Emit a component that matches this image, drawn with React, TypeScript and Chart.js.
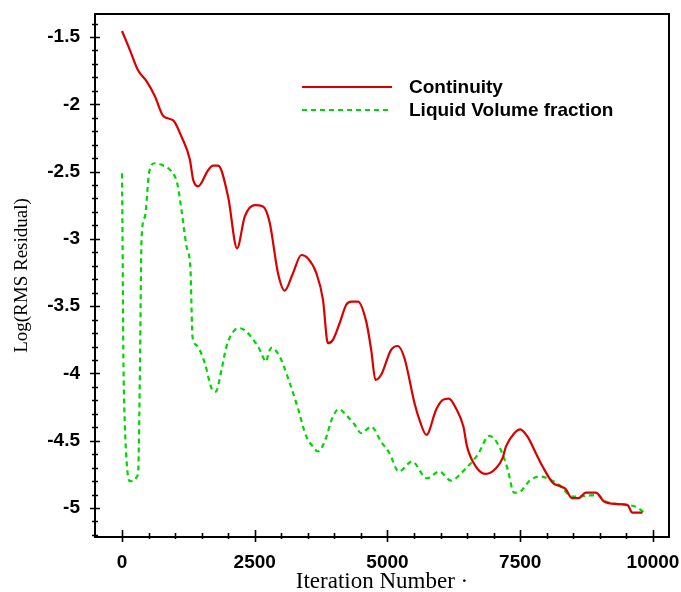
import React, { useEffect, useRef } from "react";
import { Chart, registerables } from "chart.js";

Chart.register(...registerables);

// ---- Data ----
const CONT_ITER = [
  0, 150, 300, 465, 620, 777, 965, 1120, 1278, 1340, 1434, 1622, 1716, 1810, 1998, 2167, 2312, 2500, 2656, 2782,
  2938, 3064, 3220, 3378, 3502, 3660, 3784, 3878, 3972, 4098, 4223, 4317, 4442, 4600, 4693, 4774, 4880, 5068, 5194,
  5320, 5508, 5602, 5733, 5915, 6040, 6153, 6291, 6429, 6498, 6660, 6855, 7043, 7167, 7230, 7387, 7500, 7637, 7794,
  7919, 8107, 8264, 8358, 8470, 8596, 8734, 8922, 9079, 9298, 9517, 9611, 9799,
];
const CONT_RES = [
  -1.455, -1.597, -1.745, -1.83, -1.94, -2.087, -2.12, -2.24, -2.41, -2.56, -2.61, -2.49, -2.456, -2.456, -2.686,
  -3.07, -2.835, -2.75, -2.76, -2.88, -3.255, -3.385, -3.255, -3.12, -3.145, -3.255, -3.45, -3.775, -3.75, -3.627,
  -3.49, -3.466, -3.466, -3.615, -3.825, -4.048, -4.01, -3.825, -3.796, -3.887, -4.22, -4.345, -4.457, -4.27, -4.197,
  -4.187, -4.26, -4.395, -4.544, -4.69, -4.747, -4.705, -4.63, -4.544, -4.444, -4.415, -4.47, -4.593, -4.69, -4.81,
  -4.84, -4.86, -4.927, -4.927, -4.886, -4.886, -4.952, -4.97, -4.977, -5.034, -5.034,
];
const LVF_ITER = [
  0, 10, 25, 56, 100, 150, 244, 276, 307, 326, 338, 370, 432, 514, 620, 746, 934, 1040, 1120, 1216, 1290, 1328,
  1403, 1560, 1686, 1767, 1874, 1967, 2124, 2218, 2344, 2563, 2720, 2751, 2814, 2970, 3158, 3314, 3472, 3597, 3690,
  3816, 3972, 4086, 4223, 4380, 4505, 4693, 4880, 5038, 5212, 5463, 5739, 5977, 6195, 6447, 6697, 6917, 7105, 7267,
  7380, 7500, 7669, 7857, 8013, 8233, 8483, 8734, 8951, 9110, 9486, 9674, 9850,
];
const LVF_RES = [
  -2.513, -2.96, -3.825, -4.395, -4.717, -4.8, -4.79, -4.77, -4.717, -4.32, -3.974, -2.984, -2.835, -2.5, -2.438,
  -2.45, -2.5, -2.587, -2.785, -3.058, -3.23, -3.727, -3.79, -3.924, -4.11, -4.135, -3.974, -3.8, -3.677, -3.664,
  -3.69, -3.8, -3.912, -3.862, -3.81, -3.875, -4.07, -4.26, -4.47, -4.544, -4.58, -4.507, -4.32, -4.266, -4.31,
  -4.38, -4.444, -4.395, -4.507, -4.593, -4.729, -4.655, -4.779, -4.729, -4.796, -4.717, -4.605, -4.464, -4.544,
  -4.717, -4.886, -4.878, -4.8, -4.766, -4.779, -4.829, -4.915, -4.91, -4.903, -4.952, -4.977, -4.99, -5.04,
];

const SERIES_NAMES = ["Continuity", "Liquid Volume fraction"];
const X_MAJOR = [0, 2500, 5000, 7500, 10000];
const X_MINOR = [500, 1000, 1500, 2000, 3000, 3500, 4000, 4500, 5500, 6000, 6500, 7000, 8000, 8500, 9000, 9500];
const Y_MAJOR = [-5, -4.5, -4, -3.5, -3, -2.5, -2, -1.5];
const Y_MINOR = [
  -5.2, -5.1, -4.9, -4.8, -4.7, -4.6, -4.4, -4.3, -4.2, -4.1, -3.9, -3.8, -3.7, -3.6, -3.4, -3.3, -3.2, -3.1, -2.9,
  -2.8, -2.7, -2.6, -2.4, -2.3, -2.2, -2.1, -1.9, -1.8, -1.7, -1.6, -1.4,
];
const X_TITLE = "Iteration Number ·";
const Y_TITLE = "Log(RMS Residual)";

const RED = "rgb(218,0,0)";
const GREEN = "rgb(0,215,0)";
const TICK_FONT = "Liberation Sans, Arial, sans-serif";
const SERIF = "Liberation Serif, Times New Roman, serif";

const framePlugin = {
  id: "frameTicks",
  afterDraw(chart: any) {
    const { ctx, chartArea } = chart;
    const xs = chart.scales.x;
    const ys = chart.scales.y;
    const { left, right, top, bottom } = chartArea;
    ctx.save();
    ctx.strokeStyle = "#000";
    ctx.lineWidth = 2;
    ctx.beginPath();
    ctx.rect(left, top, right - left, bottom - top);
    ctx.stroke();
    ctx.lineWidth = 1.6;
    ctx.beginPath();
    X_MAJOR.forEach((v) => {
      const p = Math.round(xs.getPixelForValue(v)) + 0.5;
      ctx.moveTo(p, bottom - 7);
      ctx.lineTo(p, bottom + 5);
    });
    X_MINOR.forEach((v) => {
      const p = Math.round(xs.getPixelForValue(v)) + 0.5;
      ctx.moveTo(p, bottom - 4);
      ctx.lineTo(p, bottom + 2);
    });
    Y_MAJOR.forEach((v) => {
      const p = Math.round(ys.getPixelForValue(v)) + 0.5;
      ctx.moveTo(left - 5, p);
      ctx.lineTo(left + 5, p);
    });
    Y_MINOR.forEach((v) => {
      const p = Math.round(ys.getPixelForValue(v)) + 0.5;
      ctx.moveTo(left - 3, p);
      ctx.lineTo(left + 3, p);
    });
    ctx.stroke();

    // legend
    const lx0 = 302;
    const lx1 = 392;
    const ly = [87, 110];
    ctx.lineWidth = 2.2;
    ctx.strokeStyle = RED;
    ctx.setLineDash([]);
    ctx.beginPath();
    ctx.moveTo(lx0, ly[0]);
    ctx.lineTo(lx1, ly[0]);
    ctx.stroke();
    ctx.strokeStyle = GREEN;
    ctx.setLineDash([5, 4]);
    ctx.beginPath();
    ctx.moveTo(lx0, ly[1]);
    ctx.lineTo(lx1, ly[1]);
    ctx.stroke();
    ctx.setLineDash([]);
    ctx.fillStyle = "#000";
    ctx.font = "bold 19px " + TICK_FONT;
    ctx.textBaseline = "middle";
    ctx.textAlign = "left";
    ctx.fillText(SERIES_NAMES[0], 409, ly[0] + 1);
    ctx.fillText(SERIES_NAMES[1], 409, ly[1] + 1);
    ctx.restore();
  },
};

export default function App() {
  const ref = useRef<HTMLCanvasElement | null>(null);
  useEffect(() => {
    if (!ref.current) return;
    const chart = new Chart(ref.current, {
      type: "line",
      data: {
        datasets: [
          {
            label: SERIES_NAMES[0],
            data: CONT_ITER.map((x, i) => ({ x, y: CONT_RES[i] })),
            borderColor: RED,
            borderWidth: 2.2,
            pointRadius: 0,
            cubicInterpolationMode: "monotone",
            fill: false,
          },
          {
            label: SERIES_NAMES[1],
            data: LVF_ITER.map((x, i) => ({ x, y: LVF_RES[i] })),
            borderColor: GREEN,
            borderWidth: 2.2,
            borderDash: [5, 4],
            pointRadius: 0,
            cubicInterpolationMode: "monotone",
            fill: false,
          },
        ],
      },
      options: {
        responsive: false,
        animation: false,
        parsing: false as any,
        layout: { padding: { left: 0, top: 14, right: 12, bottom: 0 } },
        plugins: { legend: { display: false }, tooltip: { enabled: false } },
        scales: {
          x: {
            type: "linear",
            min: -508,
            max: 10301,
            grid: { display: false },
            border: { display: false },
            afterFit: (s: any) => {
              s.height = 55;
              s.paddingLeft = 0;
              s.paddingRight = 0;
            },
            afterBuildTicks: (s: any) => {
              s.ticks = X_MAJOR.map((v) => ({ value: v }));
            },
            ticks: {
              color: "#000",
              font: { family: TICK_FONT, size: 19, weight: "bold" },
              padding: 6,
              maxRotation: 0,
              autoSkip: false,
              callback: (v: any) => String(v),
            },
            title: {
              display: true,
              text: X_TITLE,
              color: "#000",
              font: { family: SERIF, size: 23, lineHeight: 1 },
              padding: { top: 0, bottom: -1 },
            },
          },
          y: {
            type: "linear",
            min: -5.2155,
            max: -1.329,
            grid: { display: false },
            border: { display: false },
            afterFit: (s: any) => {
              s.width = 95;
              s.paddingTop = 0;
              s.paddingBottom = 0;
            },
            afterBuildTicks: (s: any) => {
              s.ticks = Y_MAJOR.map((v) => ({ value: v }));
            },
            ticks: {
              color: "#000",
              font: { family: TICK_FONT, size: 19, weight: "bold" },
              padding: 7,
              autoSkip: false,
              callback: (v: any) => String(v),
            },
            title: {
              display: true,
              text: Y_TITLE,
              color: "#000",
              font: { family: SERIF, size: 19, lineHeight: 1 },
              padding: { top: 13, bottom: 0 },
            },
          },
        },
      },
      plugins: [framePlugin],
    });
    return () => chart.destroy();
  }, []);
  return (
    <div style={{ position: "fixed", left: 0, top: 0, width: 681, height: 592, background: "#fff" }}>
      <canvas ref={ref} width={681} height={592} style={{ display: "block" }} />
    </div>
  );
}
